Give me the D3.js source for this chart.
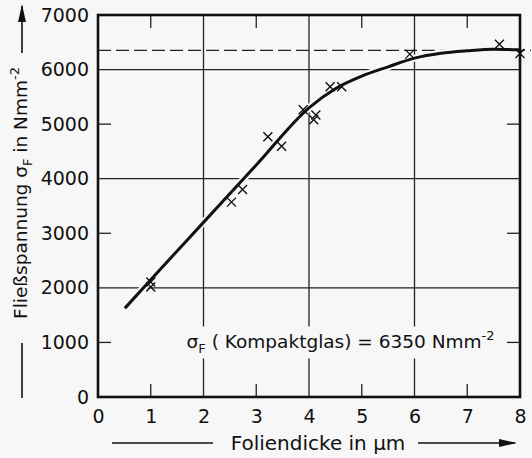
<!DOCTYPE html>
<html>
<head>
<meta charset="utf-8">
<script src="https://cdn.jsdelivr.net/npm/d3@7"></script>
<style>
  body { margin: 0; background: #f7f7f7; }
  svg { display: block; font-family: "DejaVu Sans", sans-serif; }
</style>
</head>
<body>
<div id="chart"></div>
<script>
// measured crosses
const pointsX = [1.0, 1.0, 2.53, 2.74, 3.22, 3.48, 3.89, 4.09, 4.13, 4.40, 4.62, 5.91, 7.61, 8.0];
const pointsY = [2108, 2016, 3571, 3803, 4771, 4594, 5265, 5082, 5168, 5686, 5686, 6283, 6466, 6294];

// fitted curve
const curveX = [0.51, 1.0, 2.0, 3.0, 4.0, 4.5, 5.0, 5.5, 6.0, 6.5, 7.0, 7.5, 8.0];
const curveY = [1627, 2150, 3200, 4250, 5300, 5650, 5880, 6050, 6210, 6300, 6345, 6372, 6362];

const compactValue = 6350;
const xTicks = [0, 1, 2, 3, 4, 5, 6, 7, 8];
const yTicks = [0, 1000, 2000, 3000, 4000, 5000, 6000, 7000];
const xGrid = [2, 4, 6];
const yGrid = [2000, 4000, 6000];
const xMinor = [1, 3, 5, 7];
const yMinor = [1000, 3000, 5000];

const W = 532, H = 458;
const margin = { top: 15, right: 12, bottom: 61, left: 98 };
const width = W - margin.left - margin.right;
const height = H - margin.top - margin.bottom;
const bg = "#f7f7f7";

const svg = d3.select("#chart").append("svg")
    .attr("width", W)
    .attr("height", H);

const defs = svg.append("defs");
defs.append("marker")
    .attr("id", "arrow")
    .attr("viewBox", "0 0 10 10")
    .attr("refX", 9).attr("refY", 5)
    .attr("markerWidth", 18).attr("markerHeight", 8)
    .attr("markerUnits", "userSpaceOnUse")
    .attr("orient", "auto")
    .attr("preserveAspectRatio", "none")
    .append("path")
    .attr("d", "M0,0 L10,5 L0,10 Z")
    .attr("fill", "#111");

const g = svg.append("g")
    .attr("transform", `translate(${margin.left},${margin.top})`);

const x = d3.scaleLinear().domain([0, 8]).range([0, width]);
const y = d3.scaleLinear().domain([0, 7000]).range([height, 0]);

// grid lines
g.selectAll(".vgrid").data(xGrid).join("line")
    .attr("x1", d => x(d)).attr("x2", d => x(d))
    .attr("y1", 0).attr("y2", height)
    .attr("stroke", "#222").attr("stroke-width", 1.3);
g.selectAll(".hgrid").data(yGrid).join("line")
    .attr("x1", 0).attr("x2", width)
    .attr("y1", d => y(d)).attr("y2", d => y(d))
    .attr("stroke", "#222").attr("stroke-width", 1.3);

// minor ticks on all four sides
const tl = 13;
g.selectAll(".xminb").data(xMinor).join("line")
    .attr("x1", d => x(d)).attr("x2", d => x(d))
    .attr("y1", height).attr("y2", height - tl)
    .attr("stroke", "#222").attr("stroke-width", 1.3);
g.selectAll(".xmint").data(xMinor).join("line")
    .attr("x1", d => x(d)).attr("x2", d => x(d))
    .attr("y1", 0).attr("y2", tl)
    .attr("stroke", "#222").attr("stroke-width", 1.3);
g.selectAll(".yminl").data(yMinor).join("line")
    .attr("x1", 0).attr("x2", tl)
    .attr("y1", d => y(d)).attr("y2", d => y(d))
    .attr("stroke", "#222").attr("stroke-width", 1.3);
g.selectAll(".yminr").data(yMinor).join("line")
    .attr("x1", width).attr("x2", width - tl)
    .attr("y1", d => y(d)).attr("y2", d => y(d))
    .attr("stroke", "#222").attr("stroke-width", 1.3);

// dashed reference line (runs slightly past the frame)
g.append("line")
    .attr("x1", 0).attr("x2", width + 11)
    .attr("y1", y(compactValue)).attr("y2", y(compactValue))
    .attr("stroke", "#222").attr("stroke-width", 1.3)
    .attr("stroke-dasharray", "13,5");

// annotation with a box breaking the grid
const note = g.append("text")
    .attr("x", x(1.68)).attr("y", y(1000) + 6)
    .attr("font-size", 18.5)
    .attr("fill", "#111");
note.append("tspan").text("σ");
note.append("tspan").attr("font-size", 13).attr("dy", 5).text("F");
note.append("tspan").attr("dy", -5).text(" ( Kompaktglas) = 6350 Nmm");
note.append("tspan").attr("font-size", 13).attr("dy", -8).text("-2");
const bb = note.node().getBBox();
g.insert("rect", "text")
    .attr("x", bb.x - 3).attr("y", bb.y - 2)
    .attr("width", bb.width + 6).attr("height", bb.height + 4)
    .attr("fill", bg);

// curve with halo
const line = d3.line()
    .x((d, i) => x(curveX[i]))
    .y(d => y(d))
    .curve(d3.curveMonotoneX);
g.append("path").datum(curveY)
    .attr("d", line)
    .attr("fill", "none")
    .attr("stroke", bg).attr("stroke-width", 7);
g.append("path").datum(curveY)
    .attr("d", line)
    .attr("fill", "none")
    .attr("stroke", "#111").attr("stroke-width", 3);

// crosses
const s = 4.5;
g.selectAll(".cross").data(pointsY).join("path")
    .attr("class", "cross")
    .attr("d", (d, i) => {
        const cx = x(pointsX[i]), cy = y(d);
        return `M${cx - s},${cy - s}L${cx + s},${cy + s}M${cx - s},${cy + s}L${cx + s},${cy - s}`;
    })
    .attr("fill", "none")
    .attr("stroke", "#111").attr("stroke-width", 1.4);

// frame
g.append("rect")
    .attr("width", width).attr("height", height)
    .attr("fill", "none")
    .attr("stroke", "#111").attr("stroke-width", 2.6);

// axes (labels only)
const xAxis = d3.axisBottom(x).tickValues(xTicks).tickSize(0).tickPadding(13)
    .tickFormat(d3.format("d"));
g.append("g").attr("transform", `translate(0,${height})`).call(xAxis)
    .call(a => a.select(".domain").remove())
    .selectAll("text").attr("font-size", 19).attr("fill", "#111")
    .attr("font-family", "DejaVu Sans");

const yAxis = d3.axisLeft(y).tickValues(yTicks).tickSize(0).tickPadding(9)
    .tickFormat(d3.format("d"));
g.append("g").call(yAxis)
    .call(a => a.select(".domain").remove())
    .selectAll("text").attr("font-size", 19).attr("fill", "#111")
    .attr("font-family", "DejaVu Sans");

// x axis title with arrow
svg.append("line")
    .attr("x1", 112).attr("x2", 213).attr("y1", 443).attr("y2", 443)
    .attr("stroke", "#111").attr("stroke-width", 1.6);
svg.append("text")
    .attr("x", 318).attr("y", 450)
    .attr("text-anchor", "middle")
    .attr("font-size", 20).attr("fill", "#111")
    .text("Foliendicke in µm");
svg.append("line")
    .attr("x1", 418).attr("x2", 515).attr("y1", 443).attr("y2", 443)
    .attr("stroke", "#111").attr("stroke-width", 1.6)
    .attr("marker-end", "url(#arrow)");

// y axis title with arrow
svg.append("line")
    .attr("x1", 22).attr("x2", 22).attr("y1", 398).attr("y2", 343)
    .attr("stroke", "#111").attr("stroke-width", 1.6);
const yt = svg.append("text")
    .attr("transform", "translate(27,193) rotate(-90)")
    .attr("text-anchor", "middle")
    .attr("font-size", 18.5).attr("fill", "#111");
yt.append("tspan").text("Fließspannung σ");
yt.append("tspan").attr("font-size", 13).attr("dy", 5).text("F");
yt.append("tspan").attr("dy", -5).text(" in Nmm");
yt.append("tspan").attr("font-size", 13).attr("dy", -8).text("-2");
svg.append("line")
    .attr("x1", 22).attr("x2", 22).attr("y1", 53).attr("y2", 6)
    .attr("stroke", "#111").attr("stroke-width", 1.6)
    .attr("marker-end", "url(#arrow)");
</script>
</body>
</html>
